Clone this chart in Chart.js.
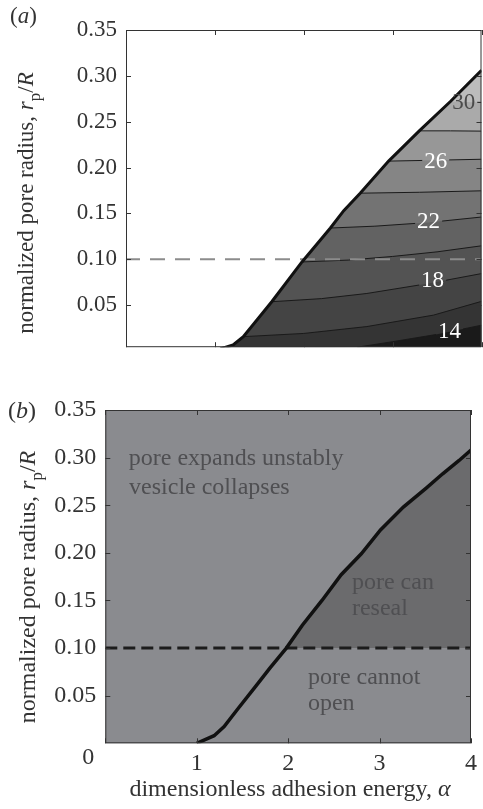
<!DOCTYPE html>
<html>
<head>
<meta charset="utf-8">
<script src="https://cdn.jsdelivr.net/npm/chart.js@4"></script>
<style>
  body { margin: 0; background: #fff; }
  canvas { position: absolute; left: 0; }
  #panelA { top: 0; }
  #panelB { top: 370px; }
</style>
</head>
<body>
<canvas id="panelA" width="483" height="370"></canvas>
<canvas id="panelB" width="483" height="439"></canvas>
<script>
// axes
const alphaTicks = [0, 1, 2, 3, 4];
const radiusTicks = [0.05, 0.10, 0.15, 0.20, 0.25, 0.30, 0.35];
const criticalRadius = 0.10;

// (a) boundary of the contour region
const edgeAlphaA = [1.06, 1.205, 1.32, 1.64, 1.98, 2.30, 2.45, 2.635, 2.955, 3.30, 3.65, 4.0];
const edgeRadiusA = [0.002, 0.0065, 0.0155, 0.0536, 0.097, 0.134, 0.153, 0.172, 0.207, 0.240, 0.272, 0.306];

// (a) contour lines, one row per level
const contourLevels = [30, 28, 26, 24, 22, 20, 18, 16, 14];
const contourAlpha = [
    [3.65, 4.0],
    [3.30, 3.65, 4.0],
    [2.955, 3.5, 4.0],
    [2.635, 3.3, 4.0],
    [2.30, 2.8, 3.4, 4.0],
    [1.98, 2.5, 3.0, 3.5, 4.0],
    [1.64, 2.2, 2.71, 3.4, 4.0],
    [1.32, 2.0, 2.71, 3.46, 4.0],
    [2.6, 3.0, 3.5, 4.0]
];
const contourRadius = [
    [0.272, 0.271],
    [0.240, 0.2400, 0.2397],
    [0.207, 0.208, 0.209],
    [0.172, 0.173, 0.1746],
    [0.134, 0.136, 0.140, 0.146],
    [0.097, 0.099, 0.103, 0.108, 0.1146],
    [0.0536, 0.057, 0.0626, 0.0734, 0.0843],
    [0.0155, 0.019, 0.0265, 0.039, 0.054],
    [0.004, 0.010, 0.018, 0.028]
];
const labelLevels = [30, 26, 22, 18, 14];

// (b) boundary
const edgeAlphaB = [1.0, 1.19, 1.30, 1.44, 1.655, 1.80, 1.98, 2.155, 2.37, 2.58, 2.80, 3.01, 3.26, 3.51, 3.69, 3.87, 4.0];
const edgeRadiusB = [0.0, 0.008, 0.0175, 0.035, 0.061, 0.079, 0.10, 0.124, 0.150, 0.177, 0.199, 0.224, 0.248, 0.268, 0.283, 0.297, 0.308];


const serif = '"Liberation Serif", "Times New Roman", serif';
const bandColors = ['#bcbcbc', '#aaaaaa', '#979797', '#858585', '#737373', '#626262', '#535353', '#444444', '#343434', '#1a1a1a'];

// where the inline contour labels sit (alpha, r)
const labelSpots = { 30: [3.80, 0.272], 26: [3.485, 0.207], 22: [3.405, 0.142], 18: [3.45, 0.077], 14: [3.64, 0.022] };

function pts(xs, ys){
    return xs.map((x, i) => ({x: x, y: ys[i]}));
}

function fontFor(style, size){
    let sz = style === "sub" ? Math.round(size * 0.72) : size;
    return (style === "i" ? "italic " : "") + sz + "px " + serif;
}

// text with italic / subscript pieces, drawn from (x, y) on the baseline
function drawRich(ctx, parts, x, y, size, align, angle){
    ctx.save();
    ctx.translate(x, y);
    if(angle) ctx.rotate(angle);
    ctx.textAlign = "left";
    ctx.textBaseline = "alphabetic";
    let widths = parts.map(p => { ctx.font = fontFor(p[1], size); return ctx.measureText(p[0]).width; });
    let total = widths.reduce((a, b) => a + b, 0);
    let cx = align === "center" ? -total / 2 : 0;
    parts.forEach((p, i) => {
        ctx.font = fontFor(p[1], size);
        ctx.fillText(p[0], cx, p[1] === "sub" ? size * 0.3 : 0);
        cx += widths[i];
    });
    ctx.restore();
}

function drawFrame(chart, color){
    const {ctx, chartArea: a, scales: {x, y}} = chart;
    ctx.save();
    ctx.strokeStyle = color;
    ctx.lineWidth = 1;
    ctx.strokeRect(a.left + 0.5, a.top + 0.5, a.right - a.left - 1, a.bottom - a.top - 1);
    let len = 5;
    ctx.beginPath();
    alphaTicks.forEach(v => {
        let px = Math.round(x.getPixelForValue(v)) + 0.5;
        ctx.moveTo(px, a.bottom); ctx.lineTo(px, a.bottom - len);
        ctx.moveTo(px, a.top); ctx.lineTo(px, a.top + len);
    });
    radiusTicks.forEach(v => {
        let py = Math.round(y.getPixelForValue(v)) + 0.5;
        ctx.moveTo(a.left, py); ctx.lineTo(a.left + len, py);
        ctx.moveTo(a.right, py); ctx.lineTo(a.right - len, py);
    });
    ctx.stroke();
    ctx.restore();
}

function labelBoxes(chart){
    const {ctx, scales: {x, y}} = chart;
    ctx.font = fontFor("", 23);
    return labelLevels.map(lev => {
        let s = labelSpots[lev];
        let w = ctx.measureText(String(lev)).width + 4;
        return {lev: lev, cx: x.getPixelForValue(s[0]), cy: y.getPixelForValue(s[1]), w: w};
    });
}

function yAxis(min, width, size){
    return {
        type: "linear", min: min, max: 0.35,
        grid: {display: false, drawTicks: false},
        border: {display: false},
        afterBuildTicks: s => { s.ticks = radiusTicks.map(v => ({value: v})); },
        afterFit: s => { s.width = width; },
        ticks: {
            autoSkip: false, padding: 9, color: "#333",
            font: {family: serif, size: size},
            callback: v => v.toFixed(2)
        }
    };
}

// ---------- panel (a) ----------
const edgeA = pts(edgeAlphaA, edgeRadiusA);
let datasetsA = [];

datasetsA.push({data: edgeA, borderColor: "#111", borderWidth: 3, fill: false, order: 0});
datasetsA.push({
    data: [{x: 0, y: criticalRadius}, {x: 4, y: criticalRadius}],
    borderColor: "#8c8c8c", borderWidth: 2, borderDash: [15, 10], borderDashOffset: 1, order: 1
});

contourLevels.forEach((lev, k) => {
    let line = pts(contourAlpha[k], contourRadius[k]);
    datasetsA.push({data: line, borderColor: "#1a1a1a", borderWidth: 1, fill: false, order: 2, contour: true});
    let below = edgeA.filter(p => p.y < line[0].y);
    datasetsA.push({
        data: below.concat(line), borderWidth: 0, borderColor: "transparent",
        backgroundColor: bandColors[k + 1], fill: "start", order: 50 - k
    });
});
datasetsA.push({data: edgeA, borderWidth: 0, borderColor: "transparent", backgroundColor: bandColors[0], fill: "start", order: 100});

const decorA = {
    id: "decorA",
    beforeDatasetDraw(chart, args){
        if(!chart.data.datasets[args.index].contour) return;
        const {ctx, chartArea: a} = chart;
        ctx.save();
        ctx.beginPath();
        ctx.rect(a.left, a.top, a.right - a.left, a.bottom - a.top);
        labelBoxes(chart).forEach(b => ctx.rect(b.cx - b.w / 2, b.cy - 7, b.w, 14));
        ctx.clip("evenodd");
    },
    afterDatasetDraw(chart, args){
        if(chart.data.datasets[args.index].contour) chart.ctx.restore();
    },
    afterDatasetsDraw(chart){
        drawFrame(chart, "#333");
    },
    afterDraw(chart){
        const ctx = chart.ctx;
        ctx.save();
        ctx.font = fontFor("", 23);
        ctx.textAlign = "center";
        ctx.textBaseline = "middle";
        labelBoxes(chart).forEach(b => {
            ctx.fillStyle = b.lev === 30 ? "#4a4a4a" : "#fff";
            ctx.fillText(String(b.lev), b.cx, b.cy + 1);
        });
        ctx.fillStyle = "#333";
        drawRich(ctx, [["(", ""], ["a", "i"], [")", ""]], 10, 23, 23, "left", 0);
        drawRich(ctx, [["normalized pore radius, ", ""], ["r", "i"], ["p", "sub"], ["/", ""], ["R", "i"]],
            33, 203, 23, "center", -Math.PI / 2);
        ctx.restore();
    }
};

new Chart(document.getElementById("panelA"), {
    type: "line",
    data: {datasets: datasetsA},
    options: {
        responsive: false,
        animation: false,
        events: [],
        layout: {padding: {top: 30, right: 1.5, bottom: 0, left: 0}},
        elements: {point: {radius: 0}, line: {tension: 0}},
        plugins: {legend: {display: false}, tooltip: {enabled: false}},
        scales: {
            x: {
                type: "linear", min: 0, max: 4,
                grid: {display: false, drawTicks: false},
                border: {display: false},
                ticks: {display: false},
                afterFit: s => { s.height = 21; }
            },
            y: yAxis(0.004, 126, 23)
        }
    },
    plugins: [decorA]
});

// ---------- panel (b) ----------
const edgeB = pts(edgeAlphaB, edgeRadiusB);
const datasetsB = [
    {data: edgeB, borderColor: "#111", borderWidth: 3.5, fill: false, order: 0},
    {
        data: [{x: 0, y: criticalRadius}, {x: 4, y: criticalRadius}],
        borderColor: "#1c1c1c", borderWidth: 3, borderDash: [12, 6], order: 1
    },
    {
        data: edgeB.filter(p => p.y >= criticalRadius), borderWidth: 0, borderColor: "transparent",
        backgroundColor: "#6b6b6d", fill: {value: criticalRadius}, order: 5
    }
];

const decorB = {
    id: "decorB",
    beforeDatasetsDraw(chart){
        const {ctx, chartArea: a} = chart;
        ctx.save();
        ctx.fillStyle = "#8a8b8f";
        ctx.fillRect(a.left, a.top, a.right - a.left, a.bottom - a.top);
        ctx.restore();
    },
    afterDatasetsDraw(chart){
        drawFrame(chart, "#333");
    },
    afterDraw(chart){
        const {ctx, scales: {x, y}} = chart;
        ctx.save();
        ctx.fillStyle = "#4f4f52";
        const notes = [
            ["pore expands unstably", 0.257, 0.292],
            ["vesicle collapses", 0.26, 0.262],
            ["pore can", 2.698, 0.1623],
            ["reseal", 2.698, 0.1343],
            ["pore cannot", 2.216, 0.0626],
            ["open", 2.216, 0.0345]
        ];
        notes.forEach(n => drawRich(ctx, [[n[0], ""]], x.getPixelForValue(n[1]), y.getPixelForValue(n[2]), 24, "left", 0));

        ctx.fillStyle = "#333";
        ctx.font = fontFor("", 24);
        ctx.textAlign = "center";
        ctx.textBaseline = "middle";
        ctx.fillText("0", x.getPixelForValue(0) - 17, 388);

        drawRich(ctx, [["(", ""], ["b", "i"], [")", ""]], 8, 48, 24, "left", 0);
        drawRich(ctx, [["normalized pore radius, ", ""], ["r", "i"], ["p", "sub"], ["/", ""], ["R", "i"]],
            34.5, 217, 24, "center", -Math.PI / 2);
        drawRich(ctx, [["dimensionless adhesion energy, ", ""], ["\u03b1", "i"]], 290, 426, 24, "center", 0);
        ctx.restore();
    }
};

new Chart(document.getElementById("panelB"), {
    type: "line",
    data: {datasets: datasetsB},
    options: {
        responsive: false,
        animation: false,
        events: [],
        layout: {padding: {top: 40, right: 4, bottom: 0, left: 0}},
        elements: {point: {radius: 0}, line: {tension: 0}},
        plugins: {legend: {display: false}, tooltip: {enabled: false}},
        scales: {
            x: {
                type: "linear", min: 0, max: 4,
                grid: {display: false, drawTicks: false},
                border: {display: false},
                afterBuildTicks: s => { s.ticks = alphaTicks.map(v => ({value: v})); },
                afterFit: s => { s.height = 439 - 373.3; },
                ticks: {
                    autoSkip: false, maxRotation: 0, padding: 6, color: "#333",
                    font: {family: serif, size: 24},
                    callback: v => v === 0 ? "" : String(v)
                }
            },
            y: yAxis(0, 105.3, 24)
        }
    },
    plugins: [decorB]
});
</script>
</body>
</html>
